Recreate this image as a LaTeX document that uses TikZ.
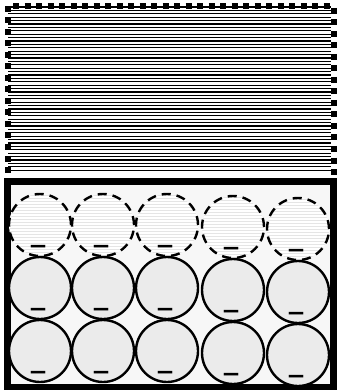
\documentclass[tikz,border=0pt]{standalone}
\usepackage{fontspec}
\newfontfamily\chargefont{DejaVu Sans}

\begin{document}
\begin{tikzpicture}[x=1pt, y=-1pt,
  stripe/.style={line width=1.2pt},
  squareedge/.style={line width=6pt, dash pattern=on 6pt off 5.5pt},
  frame/.style={draw, line width=7pt, fill=gray!6},
  ion/.style={circle, draw, line width=2.4pt, minimum size=62pt, inner sep=0pt, fill=gray!16},
  shellion/.style={ion, dash pattern=on 9pt off 6pt, fill=white,
    path picture={\foreach \k in {-30,-27,...,30}
      \draw[solid, gray!20, line width=1pt] ([shift={(-32,\k)}]path picture bounding box.center) -- ++(64,0);}},
  charge/.style={font=\chargefont\fontsize{36}{36}\selectfont, inner sep=0pt, text height=12pt, text depth=0pt}
]
\useasboundingbox (0,0) rectangle (337,390);

% Striped top layer
\foreach \i in {0,...,48}
  \draw[stripe] (8,{7+3.4*\i}) -- (331,{7+3.4*\i});

% Square edges of the top layer
\draw[squareedge] (13,6) -- (330,6);
\draw[squareedge] (8,6) -- (8,175);
\draw[squareedge] (334,8) -- (334,178);

% Container
\draw[frame] (7,181) rectangle (333.5,387);

% Ions, three rows
\foreach \c/\x/\dy in {1/40/0, 2/103/0, 3/167/0, 4/233/2, 5/298/4} {
  \node[shellion] (a\c) at (\x,{225+\dy}) {};
  \node[ion]      (b\c) at (\x,{288+\dy}) {};
  \node[ion]      (c\c) at (\x,{351+\dy}) {};
  \node[charge] (qa\c) at ([shift={(-2,25)}]a\c.center) {–};
  \node[charge] (qb\c) at ([shift={(-2,25)}]b\c.center) {–};
  \node[charge] (qc\c) at ([shift={(-2,25)}]c\c.center) {–};
}

\end{tikzpicture}
\end{document}
